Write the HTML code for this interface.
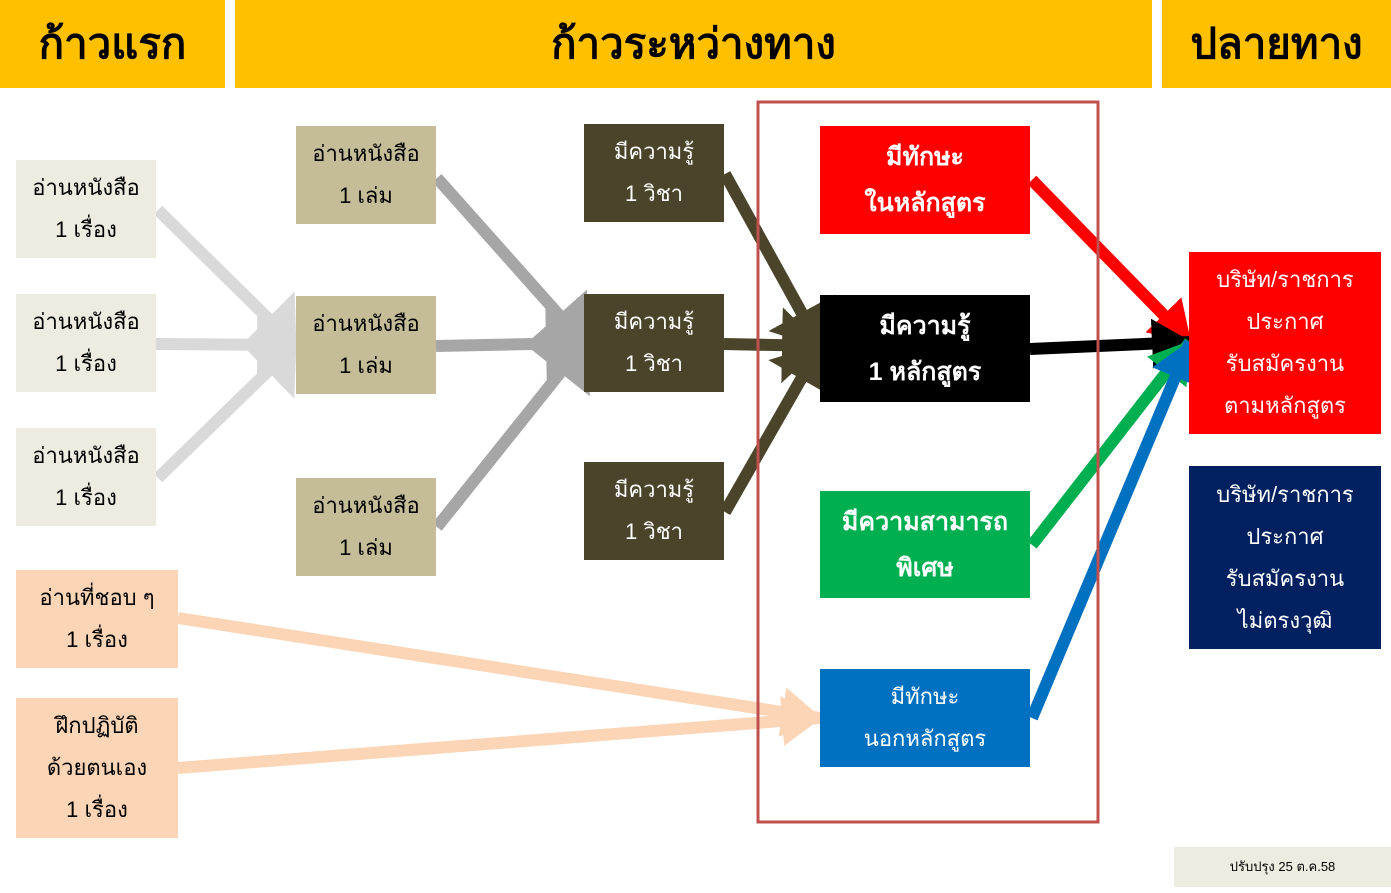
<!DOCTYPE html>
<html><head><meta charset="utf-8"><style>
body{margin:0;width:1391px;height:893px;background:#fff;overflow:hidden;position:relative;font-family:"Liberation Sans","DejaVu Sans",sans-serif}
.b{position:absolute;display:flex;align-items:center;justify-content:center;text-align:center;font-size:22px;line-height:42px}
.h{position:absolute;top:0;height:88px;background:#FFC000;display:flex;align-items:center;justify-content:center;font-size:42px;font-weight:bold;color:#000}
svg{position:absolute;left:0;top:0}
</style></head><body>
<div class="h" style="left:0;width:225px">ก้าวแรก</div>
<div class="h" style="left:235px;width:917px">ก้าวระหว่างทาง</div>
<div class="h" style="left:1162px;width:229px">ปลายทาง</div>

<svg width="1391" height="893">
<defs>
<marker id="m1" markerUnits="userSpaceOnUse" markerWidth="40" markerHeight="76" refX="38" refY="38" orient="auto"><path d="M0,0 L40,38 L0,76 Z" fill="#D9D9D9"/></marker>
<marker id="m2" markerUnits="userSpaceOnUse" markerWidth="40" markerHeight="76" refX="38" refY="38" orient="auto"><path d="M0,0 L40,38 L0,76 Z" fill="#A6A6A6"/></marker>
<marker id="m3" markerUnits="userSpaceOnUse" markerWidth="40" markerHeight="76" refX="38" refY="38" orient="auto"><path d="M0,0 L40,38 L0,76 Z" fill="#4A442A"/></marker>
<marker id="m4" markerUnits="userSpaceOnUse" markerWidth="40" markerHeight="50" refX="38" refY="25" orient="auto"><path d="M0,0 L40,25 L0,50 Z" fill="#FF0000"/></marker>
<marker id="m5" markerUnits="userSpaceOnUse" markerWidth="40" markerHeight="50" refX="38" refY="25" orient="auto"><path d="M0,0 L40,25 L0,50 Z" fill="#000"/></marker>
<marker id="m6" markerUnits="userSpaceOnUse" markerWidth="40" markerHeight="50" refX="38" refY="25" orient="auto"><path d="M0,0 L40,25 L0,50 Z" fill="#00B050"/></marker>
<marker id="m7" markerUnits="userSpaceOnUse" markerWidth="40" markerHeight="50" refX="38" refY="25" orient="auto"><path d="M0,0 L40,25 L0,50 Z" fill="#0070C0"/></marker>
<marker id="m8" markerUnits="userSpaceOnUse" markerWidth="40" markerHeight="50" refX="38" refY="25" orient="auto"><path d="M0,0 L40,25 L0,50 Z" fill="#FBD5B5"/></marker>
</defs>
<g stroke-width="12" fill="none">
<line x1="158" y1="210" x2="295" y2="345" stroke="#D9D9D9" marker-end="url(#m1)"/>
<line x1="156" y1="344" x2="295" y2="345" stroke="#D9D9D9" marker-end="url(#m1)"/>
<line x1="158" y1="478" x2="295" y2="345" stroke="#D9D9D9" marker-end="url(#m1)"/>
<line x1="437" y1="178" x2="584" y2="343" stroke="#A6A6A6" marker-end="url(#m2)"/>
<line x1="436" y1="346" x2="584" y2="343" stroke="#A6A6A6" marker-end="url(#m2)"/>
<line x1="437" y1="527" x2="584" y2="343" stroke="#A6A6A6" marker-end="url(#m2)"/>
<line x1="725" y1="174" x2="820" y2="346" stroke="#4A442A" marker-end="url(#m3)"/>
<line x1="724" y1="344" x2="820" y2="346" stroke="#4A442A" marker-end="url(#m3)"/>
<line x1="725" y1="512" x2="820" y2="346" stroke="#4A442A" marker-end="url(#m3)"/>
<line x1="178" y1="618" x2="820" y2="718" stroke="#FBD5B5" marker-end="url(#m8)"/>
<line x1="178" y1="768" x2="820" y2="718" stroke="#FBD5B5" marker-end="url(#m8)"/>
<line x1="1032" y1="180" x2="1190" y2="342" stroke="#FF0000" marker-end="url(#m4)"/>
<line x1="1030" y1="349" x2="1190" y2="342" stroke="#000" marker-end="url(#m5)"/>
<line x1="1032" y1="545" x2="1190" y2="342" stroke="#00B050" marker-end="url(#m6)"/>
<line x1="1032" y1="718" x2="1190" y2="342" stroke="#0070C0" marker-end="url(#m7)"/>
</g>
<rect x="758" y="102" width="340" height="720" fill="none" stroke="#C0504D" stroke-width="3"/>
</svg>

<div class="b" style="left:16px;top:160px;width:140px;height:98px;background:#EEECE1">อ่านหนังสือ<br>1 เรื่อง</div>
<div class="b" style="left:16px;top:294px;width:140px;height:98px;background:#EEECE1">อ่านหนังสือ<br>1 เรื่อง</div>
<div class="b" style="left:16px;top:428px;width:140px;height:98px;background:#EEECE1">อ่านหนังสือ<br>1 เรื่อง</div>
<div class="b" style="left:16px;top:570px;width:162px;height:98px;background:#FBD5B5">อ่านที่ชอบ ๆ<br>1 เรื่อง</div>
<div class="b" style="left:16px;top:698px;width:162px;height:140px;background:#FBD5B5">ฝึกปฏิบัติ<br>ด้วยตนเอง<br>1 เรื่อง</div>

<div class="b" style="left:296px;top:126px;width:140px;height:98px;background:#C4BD97">อ่านหนังสือ<br>1 เล่ม</div>
<div class="b" style="left:296px;top:296px;width:140px;height:98px;background:#C4BD97">อ่านหนังสือ<br>1 เล่ม</div>
<div class="b" style="left:296px;top:478px;width:140px;height:98px;background:#C4BD97">อ่านหนังสือ<br>1 เล่ม</div>

<div class="b" style="left:584px;top:124px;width:140px;height:98px;background:#4A442A;color:#fff">มีความรู้<br>1 วิชา</div>
<div class="b" style="left:584px;top:294px;width:140px;height:98px;background:#4A442A;color:#fff">มีความรู้<br>1 วิชา</div>
<div class="b" style="left:584px;top:462px;width:140px;height:98px;background:#4A442A;color:#fff">มีความรู้<br>1 วิชา</div>

<div class="b" style="left:820px;top:126px;width:210px;height:108px;background:#FF0000;color:#fff;font-weight:bold;font-size:25px;line-height:46px">มีทักษะ<br>ในหลักสูตร</div>
<div class="b" style="left:820px;top:295px;width:210px;height:107px;background:#000;color:#fff;font-weight:bold;font-size:25px;line-height:46px">มีความรู้<br>1 หลักสูตร</div>
<div class="b" style="left:820px;top:491px;width:210px;height:107px;background:#00B050;color:#fff;font-weight:bold;font-size:25px;line-height:46px">มีความสามารถ<br>พิเศษ</div>
<div class="b" style="left:820px;top:669px;width:210px;height:98px;background:#0070C0;color:#fff">มีทักษะ<br>นอกหลักสูตร</div>

<div class="b" style="left:1189px;top:252px;width:192px;height:182px;background:#FF0000;color:#fff">บริษัท/ราชการ<br>ประกาศ<br>รับสมัครงาน<br>ตามหลักสูตร</div>
<div class="b" style="left:1189px;top:466px;width:192px;height:183px;background:#002060;color:#fff">บริษัท/ราชการ<br>ประกาศ<br>รับสมัครงาน<br>ไม่ตรงวุฒิ</div>

<div class="b" style="left:1174px;top:847px;width:217px;height:40px;background:#EEECE1;font-size:13px">ปรับปรุง 25 ต.ค.58</div>
</body></html>
